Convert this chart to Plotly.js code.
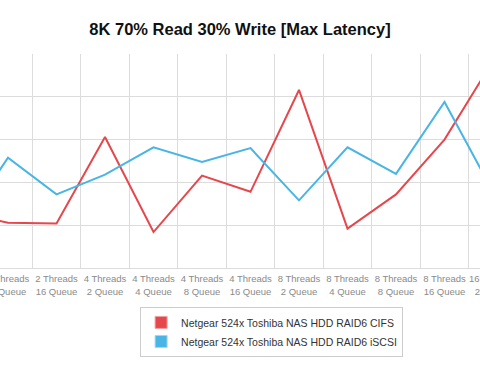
<!DOCTYPE html>
<html>
<head>
<meta charset="utf-8">
<script src="https://cdn.plot.ly/plotly-3.0.1.min.js"></script>
<style>
html,body{margin:0;padding:0;width:480px;height:370px;overflow:hidden;background:#fff;}
#chart{position:absolute;left:-60px;top:0;width:600px;height:370px;}
</style>
</head>
<body>
<div id="chart"></div>
<script>
const categories = [
  "2 Threads<br>4 Queue", "2 Threads<br>8 Queue", "2 Threads<br>16 Queue",
  "4 Threads<br>2 Queue", "4 Threads<br>4 Queue", "4 Threads<br>8 Queue", "4 Threads<br>16 Queue",
  "8 Threads<br>2 Queue", "8 Threads<br>4 Queue", "8 Threads<br>8 Queue", "8 Threads<br>16 Queue",
  "16 Threads<br>2 Queue"
];
const cifsName = "Netgear 524x Toshiba NAS HDD RAID6 CIFS";
const iscsiName = "Netgear 524x Toshiba NAS HDD RAID6 iSCSI";
const cifsValues  = [64, 53, 52, 153, 42, 108, 89, 208, 46, 86, 150, 242];
const iscsiValues = [44, 129, 86, 109, 141, 124, 140, 79, 141, 110, 194, 89];

const red = "#e5474c";
const blue = "#49b5e5";

const data = [
  {x: categories, y: cifsValues, type: "scatter", mode: "lines", name: cifsName,
   line: {color: red, width: 2}, showlegend: false, hoverinfo: "skip"},
  {x: categories, y: iscsiValues, type: "scatter", mode: "lines", name: iscsiName,
   line: {color: blue, width: 2}, showlegend: false, hoverinfo: "skip"},
  {x: [categories[1]], y: [null], type: "bar", name: cifsName, showlegend: true,
   marker: {color: red, line: {color: "#f0a0a2", width: 1}}},
  {x: [categories[1]], y: [null], type: "bar", name: iscsiName, showlegend: true,
   marker: {color: blue, line: {color: "#a0d8f0", width: 1}}}
];

const layout = {
  width: 600, height: 370,
  margin: {l: 30, r: 30, t: 54, b: 102},
  paper_bgcolor: "#fff", plot_bgcolor: "#fff",
  font: {family: "Liberation Sans, Arial, sans-serif", color: "#333"},
  title: {text: "<b>8K 70% Read 30% Write [Max Latency]</b>", x: 0.5, xref: "paper",
          y: 0.92, yref: "container", yanchor: "middle",
          font: {size: 16.5, color: "#111", family: "Liberation Sans, Arial, sans-serif"}},
  xaxis: {type: "category", range: [0.2165, 11.3505], tickson: "boundaries",
          showgrid: true, gridcolor: "#dcdcdc", gridwidth: 1, zeroline: false,
          showline: true, linecolor: "#dcdcdc", linewidth: 1, ticks: "", tickangle: 0,
          automargin: false, ticklabelstandoff: 2,
          tickfont: {size: 9.5, color: "#8a8a8a"}, fixedrange: true},
  yaxis: {range: [0, 250], dtick: 50, showgrid: true, gridcolor: "#dcdcdc", gridwidth: 1,
          zeroline: false, showticklabels: false, ticks: "", fixedrange: true},
  showlegend: true,
  legend: {x: 0.315, xanchor: "left", y: -0.182, yanchor: "top", orientation: "v",
           bgcolor: "#fff", bordercolor: "#cccccc", borderwidth: 1,
           font: {size: 10.5, color: "#333"}, itemwidth: 30, tracegroupgap: 0}
};

Plotly.newPlot("chart", data, layout, {staticPlot: true, displayModeBar: false});
</script>
</body>
</html>
